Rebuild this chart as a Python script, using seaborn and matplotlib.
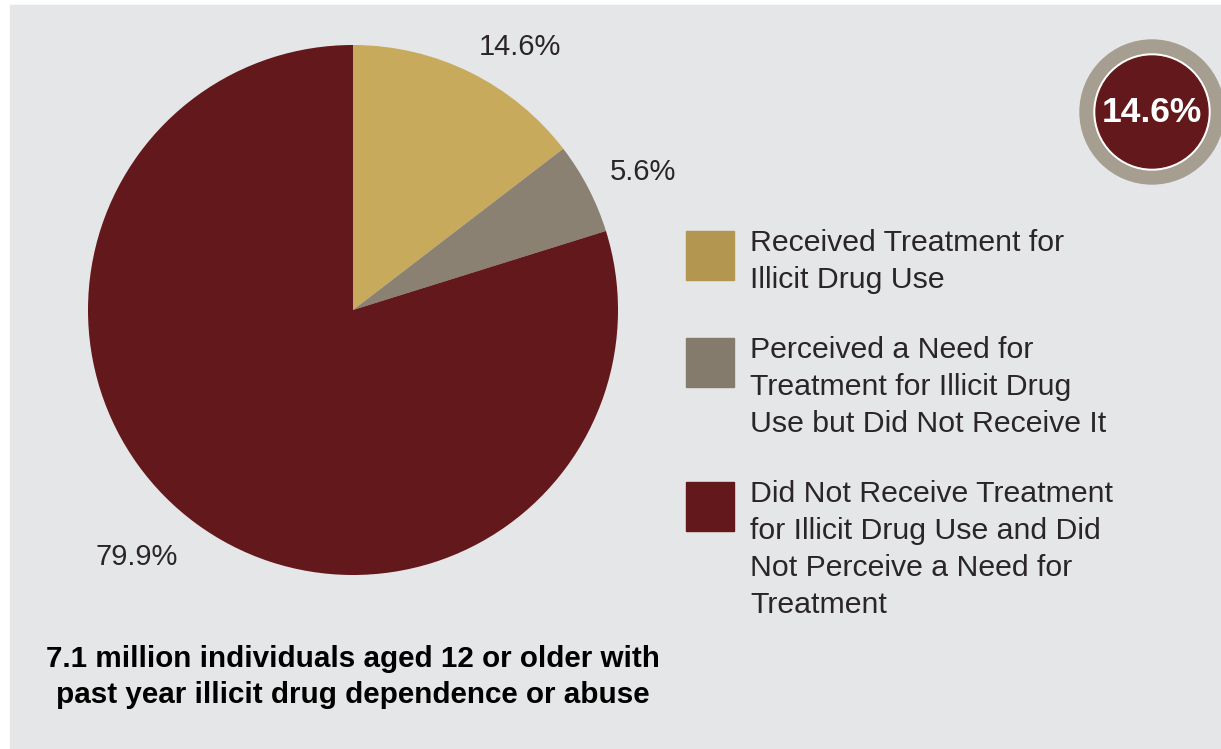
import numpy as np
import matplotlib; matplotlib.use("Agg")
import matplotlib.pyplot as plt
from matplotlib.patches import Rectangle, Circle
import seaborn as sns

W, H = 1221, 749

categories = ["Received Treatment for\nIllicit Drug Use",
              "Perceived a Need for\nTreatment for Illicit Drug\nUse but Did Not Receive It",
              "Did Not Receive Treatment\nfor Illicit Drug Use and Did\nNot Perceive a Need for\nTreatment"]
shares     = [14.6, 5.6, 79.9]
pie_colors = ["#c8aa5c", "#8b8172", "#63181c"]
key_colors = ["#b3964f", "#857b6c", "#63181c"]
label_nudge  = [-6.1, -2.0, -4.9]     # degrees off the wedge middle
label_radius = [1.175, 1.21, 1.238]
caption = "7.1 million individuals aged 12 or older with\npast year illicit drug dependence or abuse"
badge_text = "14.6%"

BG   = "#e5e6e8"
INK  = "#2a2627"

sns.set_theme(style="white")
plt.rcParams["font.family"] = ["Liberation Sans", "DejaVu Sans"]

fig = plt.figure(figsize=(W/100, H/100), dpi=100, facecolor="white")
fig.patches.append(Rectangle((10/W, 0), 1, (H-5)/H, transform=fig.transFigure,
                             color=BG, zorder=-5))

def px_axes(x0, y0, w, h):
    # axes placed in pixel coords measured from top-left
    a = fig.add_axes([x0/W, (H-y0-h)/H, w/W, h/H])
    a.set_facecolor("none")
    return a

# pie
cx, cy, r = 353, 310, 265
ax = px_axes(cx-r, cy-r, 2*r, 2*r)
wedges, _ = ax.pie(shares, colors=pie_colors, startangle=90, counterclock=False,
                   radius=1, wedgeprops=dict(linewidth=0))
ax.set_xlim(-1, 1); ax.set_ylim(-1, 1); ax.set_aspect("equal"); ax.axis("off")

for w, v, nd, lr in zip(wedges, shares, label_nudge, label_radius):
    mid = np.deg2rad((w.theta1 + w.theta2)/2 + nd)
    ax.text(lr*np.cos(mid), lr*np.sin(mid), f"{v}%", ha="center", va="center",
            fontsize=21, color=INK, clip_on=False)

# key
c = 241          # centre of first text line, px from top
LINE, GAP = 37.3, 32
for lab, col in zip(categories, key_colors):
    fig.patches.append(Rectangle((686/W, (H-(c-10)-49)/H), 48/W, 49/H,
                                 transform=fig.transFigure, color=col, zorder=2))
    fig.text(750/W, (H-(c-12))/H, lab, ha="left", va="top", fontsize=21.8,
             color=INK, linespacing=1.41)
    c += (lab.count("\n") + 1)*LINE + GAP

# caption
fig.text(353/W, (H-677)/H, caption, ha="center", va="center", fontsize=21.3,
         fontweight="bold", color="black", linespacing=1.32)

# badge
bx = px_axes(1152-76, 112-76, 152, 152)
bx.set_xlim(-76, 76); bx.set_ylim(-76, 76); bx.set_aspect("equal"); bx.axis("off")
bx.add_patch(Circle((0, 0), 72, color="#a69e90"))
bx.add_patch(Circle((0, 0), 58, color="white"))
bx.add_patch(Circle((0, 0), 56, color="#63181c"))
bx.text(0, 0, badge_text, ha="center", va="center", fontsize=25.5, fontweight="bold",
        color="white")

fig.savefig("out.png", dpi=100, facecolor=fig.get_facecolor())
